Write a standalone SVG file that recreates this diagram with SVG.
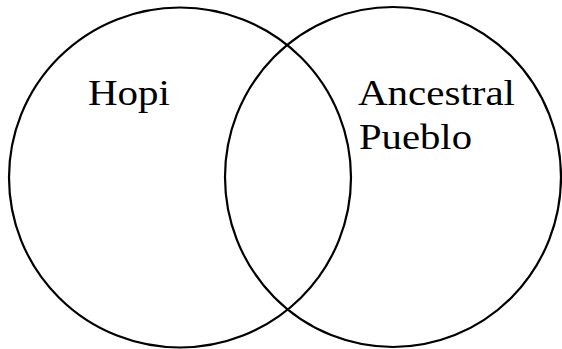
<svg xmlns="http://www.w3.org/2000/svg" width="562" height="349" viewBox="0 0 562 349">
<style>
.c{fill:none;stroke:#000;stroke-width:2.2}
.t{font-family:"Liberation Serif",serif;font-size:36px;fill:#000}
</style>
<rect width="562" height="349" fill="#fff"/>
<g id="hopi">
<ellipse class="c" cx="180" cy="177.5" rx="171" ry="170"/>
<text class="t" x="88" y="105" textLength="82" lengthAdjust="spacingAndGlyphs">Hopi</text>
</g>
<g id="ancestral-pueblo">
<ellipse class="c" cx="393" cy="177" rx="168" ry="170"/>
<text class="t" x="358" y="105" textLength="157" lengthAdjust="spacingAndGlyphs">Ancestral</text>
<text class="t" x="359" y="149" textLength="113" lengthAdjust="spacingAndGlyphs">Pueblo</text>
</g>
<g id="connectors"/>
</svg>
